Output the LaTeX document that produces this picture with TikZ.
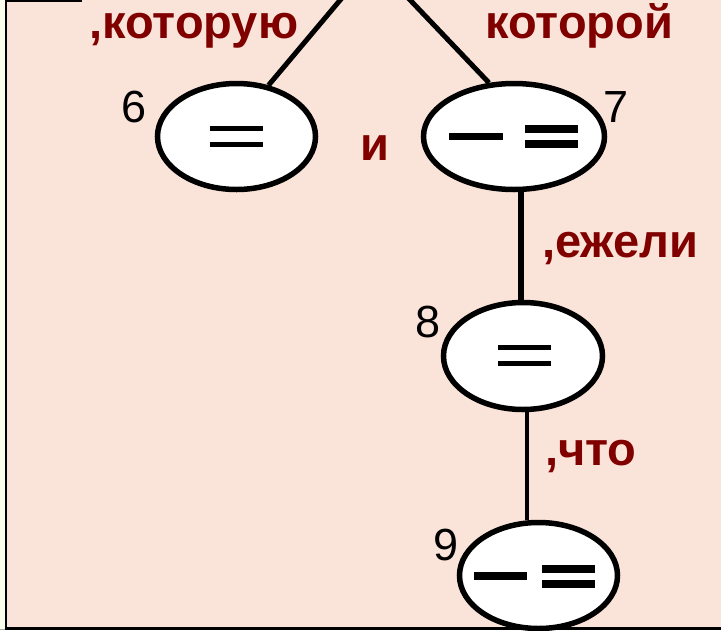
\documentclass[tikz,border=0pt]{standalone}
\usepackage{fontspec}
\setmainfont{Liberation Sans}
\usetikzlibrary{shapes.geometric}
\definecolor{bgpink}{RGB}{250,227,217}
\definecolor{strip}{RGB}{250,253,236}
\definecolor{darkred}{RGB}{128,0,0}
\begin{document}
\begin{tikzpicture}[x=1pt,y=-1pt,
  oval/.style={ellipse,draw=black,fill=white,line width=5.5pt,inner sep=0pt},
  lbl/.style={text=darkred,font=\fontsize{47}{52}\selectfont\bfseries,inner sep=0pt,anchor=base west},
  num/.style={text=black,font=\fontsize{45}{50}\selectfont,inner sep=0pt,anchor=base west},
  conn/.style={draw=black,line width=5pt},
  bar/.style={fill=black}]
\useasboundingbox (0,0) rectangle (721,630);
\clip (0,0) rectangle (721,630);
\fill[strip] (0,0) rectangle (7,630);
\fill[bgpink] (7,0) rectangle (721,627);
\fill[gray!70] (0,629) rectangle (721,630);

\coordinate (apex) at (373,-39);
\node[oval,minimum width=158pt,minimum height=106pt] (e6) at (236.5,136.5) {};
\node[oval,minimum width=181pt,minimum height=106pt] (e7) at (514,136.5) {};
\node[oval,minimum width=159pt,minimum height=107pt] (e8) at (523,356) {};
\node[oval,minimum width=158pt,minimum height=106pt] (e9) at (538.5,575.5) {};

\draw[conn] (apex) -- (e6.58);
\draw[conn] (apex) -- (e7.115);
\draw[conn,line width=6pt] ([xshift=-2pt]e7.south -| e8.north) -- ([xshift=-2pt]e8.north);
\draw[conn,line width=4pt] ([xshift=4pt]e8.south) -- ([xshift=4pt]e8.south |- e9.north);

% marks inside the ovals
\fill[bar] (210,126) rectangle (263,131);
\fill[bar] (210,142) rectangle (263,147);
\fill[bar] (449,133) rectangle (503,140);
\fill[bar] (525,124.5) rectangle (578,132.5);
\fill[bar] (525,139.5) rectangle (578,147.5);
\fill[bar] (498,345) rectangle (551,350);
\fill[bar] (498,361) rectangle (551,366);
\fill[bar] (474,572) rectangle (527,580);
\fill[bar] (542,565) rectangle (595,573);
\fill[bar] (542,580) rectangle (595,588);

\node[lbl] (t1) at (89,38) {,которую};
\node[lbl] (t2) at (485,38) {которой};
\node[lbl] (t3) at (360,160) {и};
\node[lbl] (t4) at (542,257) {,ежели};
\node[lbl] (t5) at (545,465) {,что};

\node[num] (n6) at (121,122) {6};
\node[num] (n7) at (603,122) {7};
\node[num] (n8) at (415,337) {8};
\node[num] (n9) at (433,560) {9};

\draw[black,line width=2pt] (6,0) -- (6,628);
\draw[black,line width=1.5pt] (6,0.75) -- (82,0.75);
\draw[black,line width=3pt] (5,628) -- (721,628);
\end{tikzpicture}
\end{document}
